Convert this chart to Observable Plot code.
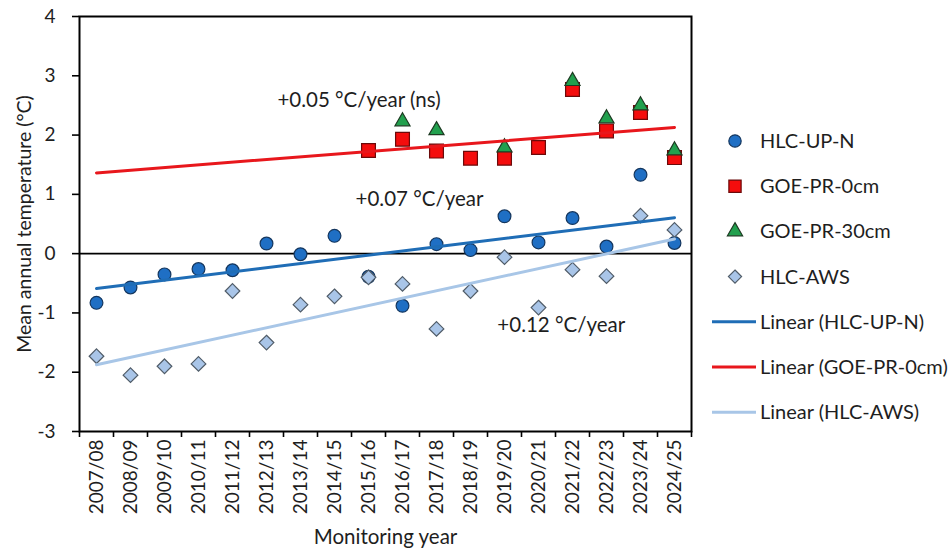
<!DOCTYPE html>
<html>
<head>
<meta charset="utf-8">
<script src="https://cdn.jsdelivr.net/npm/d3@7"></script>
<script src="https://cdn.jsdelivr.net/npm/@observablehq/plot@0.6"></script>
<style>
  html, body { margin: 0; padding: 0; background: #fff; }
  #chart { position: relative; width: 948px; height: 557px; }
  #chart svg { display: block; }
  #legend { position: absolute; left: 0; top: 0; pointer-events: none; }
</style>
</head>
<body>
<div id="chart"></div>
<script>
// Monitoring years (categories on the x axis)
const years = ["2007/08","2008/09","2009/10","2010/11","2011/12","2012/13","2013/14","2014/15","2015/16",
  "2016/17","2017/18","2018/19","2019/20","2020/21","2021/22","2022/23","2023/24","2024/25"];

// Mean annual temperature (°C) per site; null = no record that year
const hlcUpN = [-0.83,-0.57,-0.35,-0.26,-0.28,0.17,-0.01,0.30,-0.39,-0.88,0.16,0.06,0.63,0.19,0.60,0.12,1.33,0.18];
const goePr0 = [null,null,null,null,null,null,null,null,1.74,1.93,1.73,1.61,1.61,1.79,2.77,2.07,2.38,1.62];
const goePr30 = [null,null,null,null,null,null,null,null,null,2.23,2.08,null,1.79,null,2.91,2.28,2.50,1.74];
const hlcAws = [-1.73,-2.05,-1.90,-1.86,-0.63,-1.50,-0.86,-0.72,-0.40,-0.51,-1.27,-0.63,-0.06,-0.91,-0.27,-0.38,0.64,0.40];

// y ticks
const yTicks = [-3,-2,-1,0,1,2,3,4];

// Trend annotations (x in year index, y in °C)
const notes = [
  {text: "+0.05 °C/year (ns)", i: 5.32, v: 2.58},
  {text: "+0.07 °C/year", i: 7.62, v: 0.91},
  {text: "+0.12 °C/year", i: 11.79, v: -1.21}
];

const C = {
  circleFill: "#1f6fc4", circleStroke: "#14365e",
  squareFill: "#f40d0d", squareStroke: "#6b0a0a",
  triFill: "#22a04e", triStroke: "#1d3a22",
  diaFill: "#a9c5e8", diaStroke: "#505c68",
  blueLine: "#1f6db6", redLine: "#e8171c", lightLine: "#a8c6e7",
  ink: "#1e1e1e"
};
const FONT = "Lato, 'Open Sans', sans-serif";

const rows = arr => arr.map((v, i) => ({i, v})).filter(d => d.v != null);

// Ordinary least-squares trend over year index, drawn across the full year range
function trend(arr) {
  const pts = rows(arr);
  const mx = d3.mean(pts, d => d.i), my = d3.mean(pts, d => d.v);
  const sxy = d3.sum(pts, d => (d.i - mx) * (d.v - my));
  const sxx = d3.sum(pts, d => (d.i - mx) ** 2);
  const b = sxy / sxx, a = my - b * mx;
  return [0, years.length - 1].map(i => ({i, v: a + b * i}));
}

const boundaries = d3.range(years.length + 1).map(k => k - 0.5);

const plot = Plot.plot({
  width: 948,
  height: 557,
  marginLeft: 79,
  marginRight: 257,
  marginTop: 16,
  marginBottom: 126,
  style: {fontFamily: FONT, fontSize: "19px", color: C.ink, background: "#fff"},
  x: {type: "linear", domain: [-0.5, years.length - 0.5]},
  y: {domain: [-3, 4]},
  marks: [
    Plot.ruleY([0], {stroke: "#000", strokeWidth: 1.6}),
    Plot.dot(rows(hlcUpN), {x: "i", y: "v", r: 6.4, symbol: "circle", fill: C.circleFill, stroke: C.circleStroke, strokeWidth: 1.2}),
    Plot.dot(rows(goePr0), {x: "i", y: "v", r: 7.8, symbol: "square", fill: C.squareFill, stroke: C.squareStroke, strokeWidth: 1.2}),
    Plot.dot(rows(goePr30), {x: "i", y: "v", r: 5.6, symbol: "triangle", fill: C.triFill, stroke: C.triStroke, strokeWidth: 1.2}),
    Plot.dot(rows(hlcAws), {x: "i", y: "v", r: 6.6, symbol: "diamond2", fill: C.diaFill, stroke: C.diaStroke, strokeWidth: 1.2}),
    Plot.line(trend(hlcUpN), {x: "i", y: "v", stroke: C.blueLine, strokeWidth: 3}),
    Plot.line(trend(goePr0), {x: "i", y: "v", stroke: C.redLine, strokeWidth: 3}),
    Plot.line(trend(hlcAws), {x: "i", y: "v", stroke: C.lightLine, strokeWidth: 3}),
    Plot.text(notes, {x: "i", y: "v", text: "text", textAnchor: "start", fill: C.ink, fontSize: 20.5}),
    Plot.axisY(yTicks, {tickSize: 7, tickPadding: 17, tickFormat: d => String(d), label: null, stroke: "#000", strokeWidth: 1.6, fontSize: 19}),
    Plot.axisX(boundaries, {tickSize: 6, tickFormat: () => "", label: null, stroke: "#000", strokeWidth: 1.6}),
    Plot.axisX(d3.range(years.length), {tickSize: 0, tickPadding: 8, tickRotate: -90, tickFormat: i => years[i], label: null, fontSize: 19}),
    Plot.frame({stroke: "#000", strokeWidth: 2}),
    Plot.text(["Mean annual temperature (°C)"], {text: d => d, frameAnchor: "left", textAnchor: "middle", dx: -55, rotate: -90, fontSize: 19.5, fill: C.ink}),
    Plot.text(["Monitoring year"], {text: d => d, frameAnchor: "bottom", dy: 112, fontSize: 20.5, fill: C.ink})
  ]
});

const chart = document.getElementById("chart");
chart.appendChild(plot);

// Legend to the right of the plot frame
const legendItems = [
  {label: "HLC-UP-N", kind: "dot", symbol: d3.symbolCircle, size: 120, fill: C.circleFill, stroke: C.circleStroke},
  {label: "GOE-PR-0cm", kind: "dot", symbol: d3.symbolSquare, size: 150, fill: C.squareFill, stroke: C.squareStroke},
  {label: "GOE-PR-30cm", kind: "dot", symbol: d3.symbolTriangle, size: 100, fill: C.triFill, stroke: C.triStroke},
  {label: "HLC-AWS", kind: "dot", symbol: d3.symbolDiamond2, size: 110, fill: C.diaFill, stroke: C.diaStroke},
  {label: "Linear (HLC-UP-N)", kind: "line", stroke: C.blueLine},
  {label: "Linear (GOE-PR-0cm)", kind: "line", stroke: C.redLine},
  {label: "Linear (HLC-AWS)", kind: "line", stroke: C.lightLine}
];

const legend = d3.select(chart).append("svg")
  .attr("id", "legend").attr("width", 948).attr("height", 557)
  .attr("font-family", FONT).attr("font-size", 20).attr("fill", C.ink);

const item = legend.selectAll("g").data(legendItems).join("g")
  .attr("transform", (d, k) => `translate(0,${141 + k * 45.2})`);

item.filter(d => d.kind === "dot").append("path")
  .attr("transform", "translate(735,0)")
  .attr("d", d => d3.symbol(d.symbol, d.size)())
  .attr("fill", d => d.fill).attr("stroke", d => d.stroke).attr("stroke-width", 1.2);

item.filter(d => d.kind === "line").append("line")
  .attr("x1", 712).attr("x2", 756).attr("y1", 0).attr("y2", 0)
  .attr("stroke", d => d.stroke).attr("stroke-width", 3);

item.append("text").attr("x", 760).attr("dy", "0.35em").text(d => d.label);
</script>
</body>
</html>
